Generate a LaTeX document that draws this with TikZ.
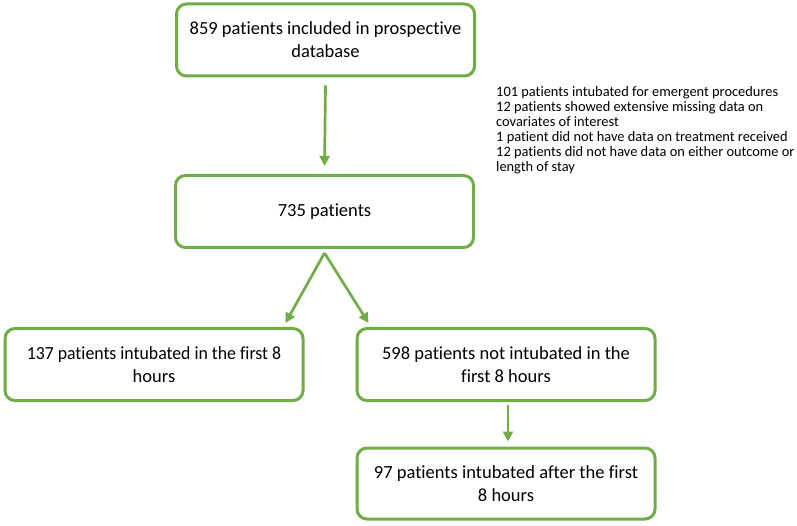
\documentclass[tikz,border=0pt]{standalone}
\usepackage{fontspec}
\setmainfont{Carlito}[Ligatures=NoCommon]
\usetikzlibrary{arrows.meta,calc}
\definecolor{grn}{HTML}{70AD47}
\begin{document}
\begin{tikzpicture}[x=1pt,y=1pt,
 box/.style={draw=grn, line width=3pt, rounded corners=10pt, minimum width=298pt, minimum height=72pt, align=center, font=\fontsize{18.5}{23}\selectfont, inner sep=0pt},
 arr/.style={draw=grn, line width=2.7pt, -{Triangle[length=10pt,width=10pt]}},
 note/.style={anchor=north west, align=left, font=\fontsize{14.4}{15}\selectfont, inner sep=0pt}]
\useasboundingbox (0,0) rectangle (797,525);
\node[box] (b1) at (325.5,485) {859 patients included in prospective\\database};
\node[box] (b2) at (324.5,313.5) {735 patients};
\node[box] (b3) at (154,160.5) {\scalebox{0.96}[1]{137 patients intubated in the first 8}\\hours};
\node[box] (b4) at (506,160.5) {598 patients not intubated in the\\first 8 hours};
\node[box, minimum height=71pt] (b5) at (506,41.5) {97 patients intubated after the first\\8 hours};
\node[note] (n) at (496,439) {101 patients intubated for emergent procedures\\12 patients showed extensive missing data on\\covariates of interest\\1 patient did not have data on treatment received\\12 patients did not have data on either outcome or\\length of stay};
\coordinate (s) at ($(b2.south)+(0,-4)$);
\coordinate (t3) at ($(b3.north east)+(-19,4)$);
\coordinate (t4) at ($(b4.north west)+(13,4)$);
\draw[arr] ($(b1.south)+(0,-8)$) -- ($(b2.north)+(0,8)$);
\draw[arr] (s) -- (t3);
\draw[arr] (s) -- (t4);
\draw[arr] ($(b4.south)+(2,-3)$) -- ($(b5.north)+(2,5)$);
\end{tikzpicture}
\end{document}
